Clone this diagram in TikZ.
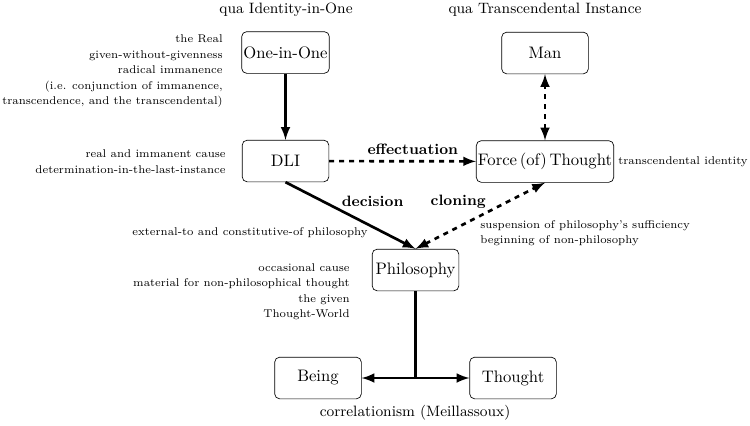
\documentclass[tikz,border=0pt]{standalone}
\begin{document}
\begin{tikzpicture}[>=latex,line join=round,x=0.6pt,y=-0.6pt,
	box/.style={draw,rounded corners=3pt,minimum width=52pt,minimum height=25pt,inner xsep=1pt},
	side/.style={font=\fontsize{6.75}{9.3}\selectfont,inner sep=0pt},
	lbl/.style={font=\small\bfseries},
	link/.style={ultra thick}]
	\useasboundingbox (0,0) rectangle (750,425);
	% titres des colonnes
	\node[font=\small] (hOne) at (286,10) {qua Identity-in-One};
	\node[font=\small] (hMan) at (545,10) {qua Transcendental Instance};
	% les boites
	\node[box] (one) at (285.5,52.5) {One-in-One};
	\node[box] (man) at (545,53) {Man};
	\node[box] (dli) at (285.5,161) {DLI};
	\node[box] (force) at (545,161.5) {Force\,(of)\,Thought};
	\node[box] (phil) at (415.5,270) {Philosophy};
	\node[box] (being) at (318,378) {Being};
	\node[box] (thought) at (513,378) {Thought};
	\coordinate (split) at (phil.south |- being.east);
	% textes a cote
	\node[side,align=right,anchor=east] (oneTxt) at (223,71) {the Real\\given-without-givenness\\radical immanence\\(i.e. conjunction of immanence,\\transcendence, and the transcendental)};
	\node[side,align=right,anchor=east] (dliTxt) at (226,161.5) {real and immanent cause\\determination-in-the-last-instance};
	\node[side,anchor=east] (decTxt) at (368,233) {external-to and constitutive-of philosophy};
	\node[side,align=right,anchor=east] (philTxt) at (350,291.5) {occasional cause\\material for non-philosophical thought\\the given\\Thought-World};
	\node[side,anchor=west] (forceTxt) at (618,161.5) {transcendental identity};
	\node[side,align=left,anchor=west] (cloTxt) at (480,233) {suspension of philosophy's sufficiency\\beginning of non-philosophy};
	\node[font=\small] (corr) at (415,413) {correlationism (Meillassoux)};
	% les fleches
	\draw[link,->] (one) -- (dli);
	\draw[link,dashed,->] (dli) -- node[lbl,above,pos=0.57]{effectuation} (force);
	\draw[link,dashed,<->] (force) -- (man);
	\draw[link,->] (dli.south) -- node[lbl,above=8pt,pos=0.67]{decision} (phil.north);
	\draw[link,dashed,<->] (phil.north) -- node[lbl,above=7pt,pos=0.33]{cloning} (force.south);
	\draw[link] (phil) -- (split);
	\draw[link,->] (split) -- (being);
	\draw[link,->] (split) -- (thought);
\end{tikzpicture}
\end{document}
